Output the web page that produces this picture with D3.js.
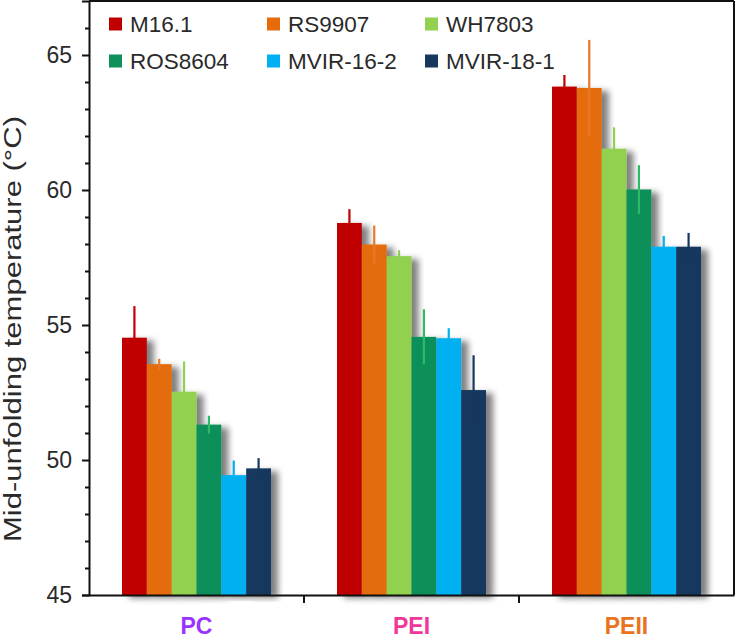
<!DOCTYPE html>
<html><head><meta charset="utf-8">
<script src="https://cdn.jsdelivr.net/npm/d3@7"></script>
<style>body{margin:0;background:#fff;} svg{display:block;}</style>
</head><body>
<svg id="c" width="737" height="643"></svg>
<script>
const groups = ["PC", "PEI", "PEII"];
const groupColors = ["#9933ff", "#f0389a", "#e8741e"];
const series = ["M16.1", "RS9907", "WH7803", "ROS8604", "MVIR-16-2", "MVIR-18-1"];
const seriesColors = ["#c00000", "#e46c0a", "#92d050", "#0f8f5a", "#00b0f0", "#17375e"];
const errColors = ["#c00000", "#e8782a", "#92d050", "#2dbb6a", "#00b0f0", "#17375e"];
// values[series][group]
const values = [
  [54.53, 58.78, 63.83],
  [53.55, 57.98, 63.78],
  [52.53, 57.55, 61.53],
  [51.31, 54.56, 60.02],
  [49.44, 54.51, 57.90],
  [49.69, 52.59, 57.90]
];
const errors = [
  [1.17, 0.51, 0.43],
  [0.20, 0.70, 1.78],
  [1.12, 0.22, 0.79],
  [0.33, 1.02, 0.90],
  [0.54, 0.37, 0.40],
  [0.38, 1.29, 0.51]
];
const yTicks = [45, 50, 55, 60, 65];
const yTitle = "Mid-unfolding temperature (°C)";
const FONT = "Liberation Sans, Arial, Helvetica, sans-serif";

const svg = d3.select("#c");
const m = {left: 89, right: 734, top: 1, bottom: 595};
const y = d3.scaleLinear().domain([45, 67]).range([m.bottom, m.top]);
const x0 = d3.scaleBand().domain(groups).range([m.left, m.right]).paddingInner(0).paddingOuter(0);
const innerPad = (x0.bandwidth() - 149) / 2;
const x1 = d3.scaleBand().domain(series).range([innerPad, x0.bandwidth() - innerPad]).padding(0);

const defs = svg.append("defs");
const f = defs.append("filter").attr("id", "sh").attr("x", "-20%").attr("y", "-5%").attr("width", "170%").attr("height", "110%");
f.append("feDropShadow").attr("dx", 7).attr("dy", 3).attr("stdDeviation", 3.2).attr("flood-color", "#000").attr("flood-opacity", 0.5);

// bars
groups.forEach((g, gi) => {
  const gg = svg.append("g").attr("transform", `translate(${x0(g)},0)`);
  series.forEach((s, si) => {
    gg.append("rect")
      .attr("x", x1(s)).attr("width", x1.bandwidth())
      .attr("y", y(values[si][gi])).attr("height", y(45) - y(values[si][gi]))
      .attr("fill", seriesColors[si]).attr("filter", "url(#sh)");
  });
  series.forEach((s, si) => {
    const cx = x1(s) + x1.bandwidth() / 2;
    gg.append("line")
      .attr("x1", cx).attr("x2", cx)
      .attr("y1", y(values[si][gi] - errors[si][gi])).attr("y2", y(values[si][gi] + errors[si][gi]))
      .attr("stroke", errColors[si]).attr("stroke-width", 2.2);
  });
});

// frame top & right
svg.append("line").attr("x1", m.left).attr("x2", m.right).attr("y1", m.top).attr("y2", m.top).attr("stroke", "#111").attr("stroke-width", 2);
svg.append("line").attr("x1", m.right).attr("x2", m.right).attr("y1", m.top).attr("y2", m.bottom).attr("stroke", "#111").attr("stroke-width", 2);

// y axis
const yAxis = svg.append("g").attr("transform", `translate(${m.left},0)`)
  .call(d3.axisLeft(y).tickValues(yTicks).tickSize(7).tickPadding(10).tickFormat(d3.format("d")));
svg.append("g").attr("transform", `translate(${m.left},0)`)
  .call(d3.axisLeft(y).tickValues(d3.range(46, 67, 1).filter(v => v % 5 !== 0)).tickSize(4).tickFormat(""))
  .call(g => g.select(".domain").remove());
svg.selectAll(".tick line").attr("stroke", "#111").attr("stroke-width", 2);
yAxis.select(".domain").attr("stroke", "#111").attr("stroke-width", 2);
yAxis.selectAll("text").attr("font-family", FONT).attr("font-size", 23).attr("fill", "#2a2a2a");

// x axis
const xAxis = svg.append("g").attr("transform", `translate(0,${m.bottom})`)
  .call(d3.axisBottom(x0).tickSize(0).tickFormat(""));
xAxis.select(".domain").attr("stroke", "#111").attr("stroke-width", 2);
const bounds = [x0("PEI"), x0("PEII")];
svg.append("g").selectAll("line").data(bounds).join("line")
  .attr("x1", d => d).attr("x2", d => d).attr("y1", m.bottom).attr("y2", m.bottom + 8)
  .attr("stroke", "#111").attr("stroke-width", 2);
svg.append("g").selectAll("text").data(groups).join("text")
  .attr("x", d => x0(d) + x0.bandwidth() / 2).attr("y", 634)
  .attr("text-anchor", "middle").attr("font-family", FONT)
  .attr("font-weight", "bold").attr("font-size", 23)
  .attr("fill", (d, i) => groupColors[i]).text(d => d);

// y title
svg.append("text").attr("transform", `translate(21,329) rotate(-90)`)
  .attr("text-anchor", "middle").attr("font-family", FONT)
  .attr("font-size", 23).attr("fill", "#2a2a2a")
  .attr("textLength", 426).attr("lengthAdjust", "spacingAndGlyphs")
  .text(yTitle);

// legend
const lg = svg.append("g");
series.forEach((s, i) => {
  const col = i % 3, row = Math.floor(i / 3);
  const lx = 109 + col * 158, ly = 24 + row * 37;
  lg.append("rect").attr("x", lx).attr("y", ly - 6.5).attr("width", 13).attr("height", 13).attr("fill", seriesColors[i]);
  lg.append("text").attr("x", lx + 21).attr("y", ly + 8).attr("font-family", FONT)
    .attr("font-size", 22.5).attr("fill", "#2a2a2a").text(s);
});
</script>
</body></html>
